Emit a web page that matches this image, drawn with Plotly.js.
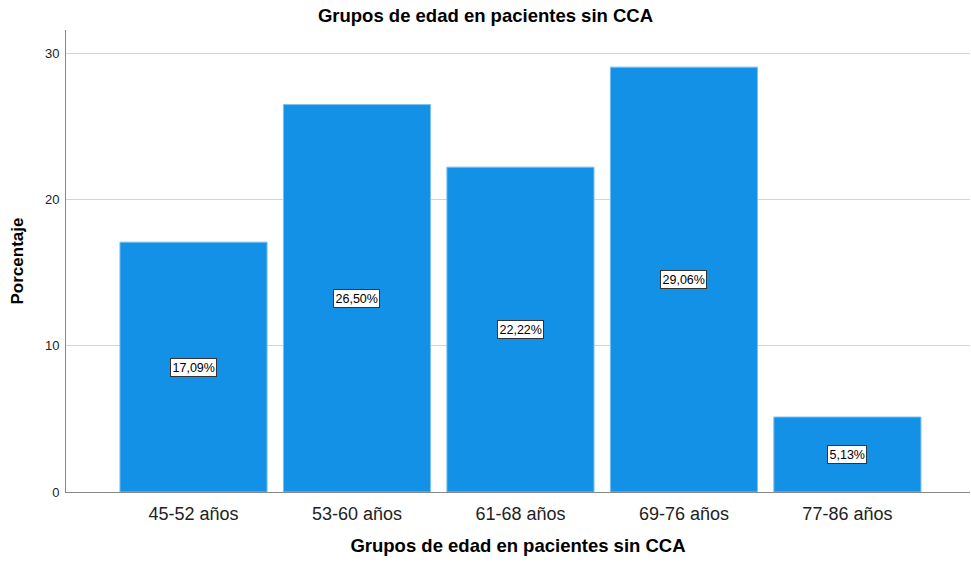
<!DOCTYPE html>
<html><head><meta charset="utf-8">
<script src="https://cdn.plot.ly/plotly-3.0.1.min.js"></script>
<style>html,body{margin:0;padding:0;background:#fff}#c{width:971px;height:562px}</style>
</head><body><div id="c"></div>
<script>
const categories = ['45-52 años','53-60 años','61-68 años','69-76 años','77-86 años'];
const values = [17.09, 26.50, 22.22, 29.06, 5.13];
const labels = ['17,09%','26,50%','22,22%','29,06%','5,13%'];
const yTicks = [0, 10, 20, 30];

const trace = {
  type: 'bar', x: categories, y: values,
  marker: {color: '#1391e6', line: {color: '#7cc0f0', width: 1}},
  hoverinfo: 'none'
};
const annotations = categories.map((c, i) => ({
  x: c, y: values[i] / 2, xref: 'x', yref: 'y', text: labels[i], showarrow: false,
  font: {family: 'Arial, Liberation Sans, sans-serif', size: 12.5, color: '#000'},
  bgcolor: '#fff', bordercolor: '#333', borderwidth: 1, borderpad: 1.5
}));
const layout = {
  width: 971, height: 562,
  margin: {l: 66, r: 1, t: 30, b: 70},
  paper_bgcolor: '#fff', plot_bgcolor: '#fff',
  font: {family: 'Arial, Liberation Sans, sans-serif', color: '#000'},
  title: {text: '<b>Grupos de edad en pacientes sin CCA</b>', x: 0.5, xanchor: 'center', y: 0.9715, yanchor: 'middle', font: {size: 18.5}},
  bargap: 0.1,
  showlegend: false,
  xaxis: {
    type: 'category', range: [-0.78, 4.75],
    showline: true, linecolor: '#888', linewidth: 1,
    ticks: 'outside', ticklen: 5, tickcolor: 'rgba(0,0,0,0)', showgrid: false,
    tickfont: {size: 18, color: '#222'},
    title: {text: '<b>Grupos de edad en pacientes sin CCA</b>', font: {size: 18.5}, standoff: 16}
  },
  yaxis: {
    range: [0, 31.6], tickvals: yTicks, ticktext: yTicks.map(String),
    showline: true, linecolor: '#888', linewidth: 1,
    ticks: 'outside', ticklen: 3, tickcolor: 'rgba(0,0,0,0)',
    showgrid: true, gridcolor: '#d4d4d4', gridwidth: 1, zeroline: false,
    tickfont: {size: 13, color: '#222'},
    title: {text: '<b>Porcentaje</b>', font: {size: 17}, standoff: 16}
  },
  annotations: annotations
};
Plotly.newPlot('c', [trace], layout, {displayModeBar: false, staticPlot: true});
</script></body></html>
